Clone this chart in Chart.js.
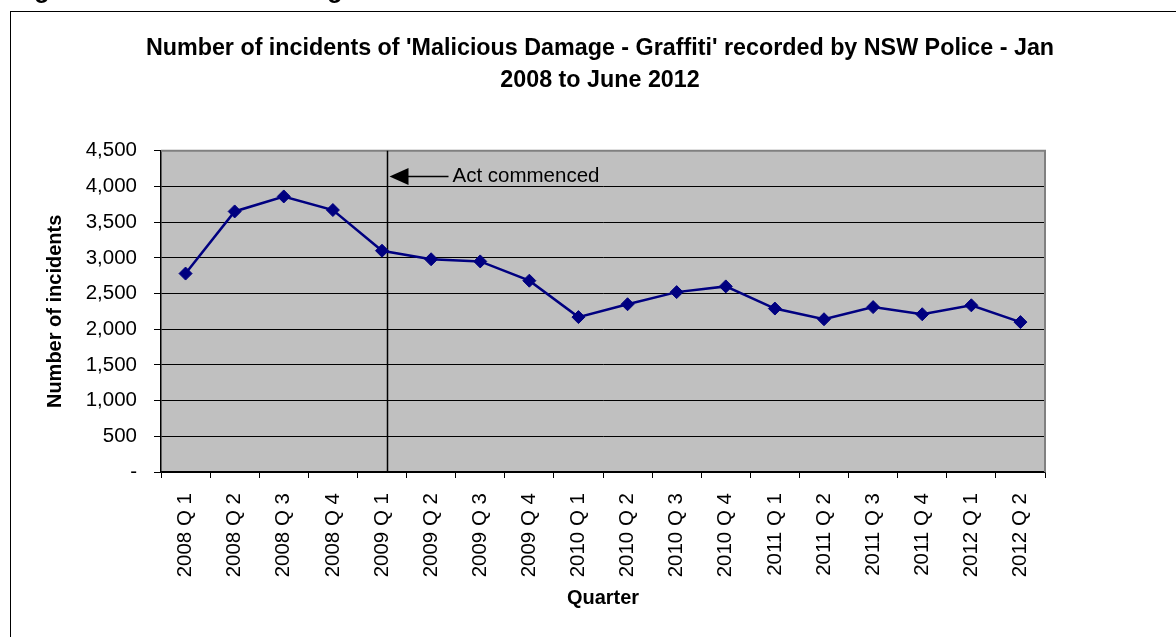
<!DOCTYPE html>
<html>
<head>
<meta charset="utf-8">
<title>Malicious Damage - Graffiti</title>
<script src="https://cdn.jsdelivr.net/npm/chart.js@4/dist/chart.umd.min.js"></script>
<style>
  html, body { margin: 0; padding: 0; background: #fff; overflow: hidden; }
  #wrap { position: relative; width: 1176px; height: 637px; }
</style>
</head>
<body>
<div id="wrap"><canvas id="chart" width="1176" height="637"></canvas></div>
<script>
const quarters = [
  '2008 Q 1', '2008 Q 2', '2008 Q 3', '2008 Q 4',
  '2009 Q 1', '2009 Q 2', '2009 Q 3', '2009 Q 4',
  '2010 Q 1', '2010 Q 2', '2010 Q 3', '2010 Q 4',
  '2011 Q 1', '2011 Q 2', '2011 Q 3', '2011 Q 4',
  '2012 Q 1', '2012 Q 2'
];
const incidents = [
  2780, 3650, 3860, 3670,
  3100, 2980, 2950, 2680,
  2170, 2350, 2520, 2600,
  2290, 2140, 2310, 2210,
  2335, 2100
];
const titleLines = [
  "Number of incidents of 'Malicious Damage - Graffiti' recorded by NSW Police - Jan",
  '2008 to June 2012'
];
const yTitle = 'Number of incidents';
const xTitle = 'Quarter';
const pageHeading = 'Figure 12: Malicious Damage';

// where the Act line sits (in category units) and where its arrow points
const actAt = 4.1;
const actArrowValue = 4140;
const actLabel = 'Act commenced';

const FONT = "'Liberation Sans', Arial, sans-serif";

function fmtTick(v) {
  if (v === 0) return '-';
  return v.toLocaleString('en-US');
}

const frame = {
  id: 'frame',
  beforeDraw(chart) {
    const { ctx, chartArea: a } = chart;
    ctx.save();
    ctx.fillStyle = '#fff';
    ctx.fillRect(0, 0, chart.width, chart.height);

    // heading of the page, mostly cut off above the picture
    ctx.fillStyle = '#000';
    ctx.font = 'bold 25px ' + FONT;
    ctx.textBaseline = 'alphabetic';
    ctx.fillText(pageHeading, 12, -2);

    // outer chart frame
    ctx.strokeStyle = '#000';
    ctx.lineWidth = 1;
    ctx.strokeRect(10.5, 11.5, 1400, 800);

    // plot area
    ctx.fillStyle = '#C0C0C0';
    ctx.fillRect(a.left, a.top, a.right - a.left, a.bottom - a.top);
    ctx.restore();
  },
  beforeDatasetsDraw(chart) {
    const { ctx, chartArea: a, scales } = chart;
    ctx.save();
    // grey top and right edges of the plot
    ctx.strokeStyle = '#808080';
    ctx.lineWidth = 2;
    ctx.beginPath();
    ctx.moveTo(a.left, a.top);
    ctx.lineTo(a.right, a.top);
    ctx.lineTo(a.right, a.bottom);
    ctx.stroke();

    // "Act commenced" marker
    const x0 = scales.x.getPixelForValue(Math.floor(actAt));
    const x1 = scales.x.getPixelForValue(Math.floor(actAt) + 1);
    const lx = Math.round(x0 + (x1 - x0) * (actAt - Math.floor(actAt))) + 0.5;
    const ay = scales.y.getPixelForValue(actArrowValue);

    ctx.strokeStyle = '#000';
    ctx.lineWidth = 1.5;
    ctx.beginPath();
    ctx.moveTo(lx, a.top);
    ctx.lineTo(lx, a.bottom);
    ctx.stroke();

    ctx.beginPath();
    ctx.moveTo(lx + 18, ay);
    ctx.lineTo(lx + 61, ay);
    ctx.stroke();

    ctx.fillStyle = '#000';
    ctx.beginPath();
    ctx.moveTo(lx + 2, ay);
    ctx.lineTo(lx + 21, ay - 8.5);
    ctx.lineTo(lx + 21, ay + 8.5);
    ctx.closePath();
    ctx.fill();

    ctx.font = '20.5px ' + FONT;
    ctx.textBaseline = 'middle';
    ctx.textAlign = 'left';
    ctx.fillText(actLabel, lx + 65, ay);
    ctx.restore();
  }
};

new Chart(document.getElementById('chart'), {
  type: 'line',
  data: {
    labels: quarters,
    datasets: [{
      label: 'Incidents',
      data: incidents,
      borderColor: '#000080',
      borderWidth: 2.5,
      tension: 0,
      pointStyle: 'rectRot',
      pointRadius: 6.5,
      pointBackgroundColor: '#000080',
      pointBorderColor: '#000080',
      pointBorderWidth: 1,
      fill: false
    }]
  },
  options: {
    responsive: false,
    devicePixelRatio: 1,
    animation: false,
    layout: { padding: { left: 24, right: 0, top: 0, bottom: 0 } },
    plugins: {
      legend: { display: false },
      tooltip: { enabled: false },
      title: {
        display: true,
        text: titleLines,
        color: '#000',
        font: { family: FONT, size: 23.3, weight: 'bold', lineHeight: 1.39 },
        padding: { top: 32, bottom: 54 }
      }
    },
    scales: {
      x: {
        offset: true,
        grid: {
          display: true,
          offset: true,
          drawOnChartArea: false,
          drawTicks: true,
          tickLength: 6,
          color: '#000',
          lineWidth: 1
        },
        border: { display: true, color: '#000', width: 1.5 },
        ticks: {
          color: '#000',
          font: { family: FONT, size: 20.5 },
          autoSkip: false,
          minRotation: 90,
          maxRotation: 90,
          padding: 15
        },
        title: {
          display: true,
          text: xTitle,
          color: '#000',
          font: { family: FONT, size: 20, weight: 'bold' },
          padding: { top: 0, bottom: 27 }
        },
        afterFit(scale) { scale.height = 165; }
      },
      y: {
        min: 0,
        max: 4500,
        grid: {
          color: '#000',
          tickColor: '#000',
          lineWidth: 1,
          drawTicks: true,
          tickLength: 7
        },
        border: { display: true, color: '#000', width: 1.5 },
        ticks: {
          stepSize: 500,
          color: '#000',
          font: { family: FONT, size: 20.5 },
          padding: 17,
          callback: v => fmtTick(v)
        },
        title: {
          display: true,
          text: yTitle,
          color: '#000',
          font: { family: FONT, size: 20, weight: 'bold' },
          padding: { top: 19, bottom: 0 }
        },
        afterFit(scale) { scale.width = 137; }
      },
      // empty space on the right of the plot, so the title stays centred on the page
      spacer: {
        type: 'linear',
        position: 'right',
        display: true,
        grid: { display: false },
        border: { display: false },
        ticks: { display: false },
        afterFit(scale) { scale.width = 131; }
      }
    }
  },
  plugins: [frame]
});
</script>
</body>
</html>
